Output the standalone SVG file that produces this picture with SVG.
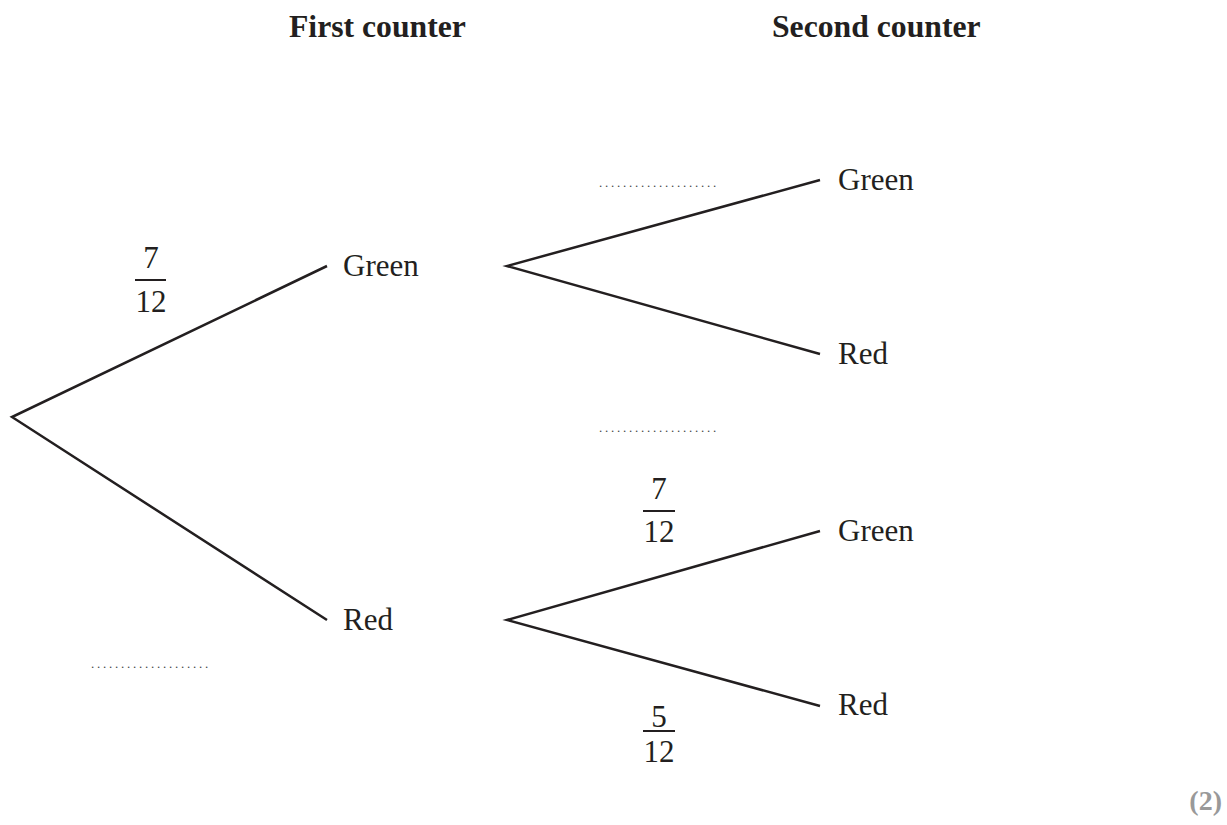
<svg xmlns="http://www.w3.org/2000/svg" width="1227" height="825" viewBox="0 0 1227 825">
<style>
.t{font-family:"Liberation Serif","Times New Roman",serif;font-size:31px;fill:#231f20}
.h{font-family:"Liberation Serif","Times New Roman",serif;font-size:31.7px;font-weight:bold;fill:#231f20}
.d{font-family:"Liberation Serif",serif;font-size:13px;letter-spacing:2.75px;fill:#444}
.m{font-family:"Liberation Serif","Times New Roman",serif;font-size:31px;fill:#231f20;text-anchor:middle}
.br{stroke:#231f20;stroke-width:2.5;fill:none}
.bar{stroke:#231f20;stroke-width:2}
</style>
<rect width="1227" height="825" fill="#fff"/>
<g id="headers">
<text class="h" x="289" y="37">First counter</text>
<text class="h" x="772" y="37">Second counter</text>
</g>
<g id="connectors">
<polyline class="br" points="327,266 12,417 327,620"/>
<polyline class="br" points="820,180 507,266 820,354"/>
<polyline class="br" points="820,531 507,620 820,706"/>
</g>
<g id="node-green1"><text class="t" x="343" y="276">Green</text></g>
<g id="node-red1"><text class="t" x="343" y="630">Red</text></g>
<g id="node-gg"><text class="t" x="838" y="190">Green</text></g>
<g id="node-gr"><text class="t" x="838" y="364">Red</text></g>
<g id="node-rg"><text class="t" x="838" y="541">Green</text></g>
<g id="node-rr"><text class="t" x="838" y="715">Red</text></g>
<g id="prob-g">
<text class="m" x="151" y="268">7</text>
<line class="bar" x1="135" y1="280" x2="166" y2="280"/>
<text class="m" x="151" y="312">12</text>
</g>
<g id="prob-rg">
<text class="m" x="659" y="499">7</text>
<line class="bar" x1="643" y1="511" x2="675" y2="511"/>
<text class="m" x="659" y="542">12</text>
</g>
<g id="prob-rr">
<text class="m" x="659" y="727">5</text>
<line class="bar" x1="643" y1="731" x2="675" y2="731"/>
<text class="m" x="659" y="762">12</text>
</g>
<g id="blanks">
<text class="d" x="599" y="187">....................</text>
<text class="d" x="599" y="432">....................</text>
<text class="d" x="91" y="668">....................</text>
</g>
<text x="1222" y="810" text-anchor="end" style="font-family:'Liberation Serif',serif;font-size:28px;font-weight:bold;fill:#999">(2)</text>
</svg>
